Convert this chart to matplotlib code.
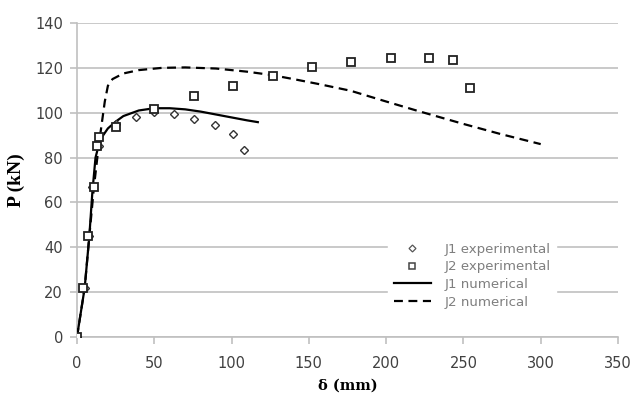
import matplotlib.pyplot as plt
from matplotlib.lines import Line2D

# J1 experimental (diamonds)
j1_exp_x = [0, 5, 8, 10, 14, 25, 38, 50, 63, 76, 89, 101, 108]
j1_exp_y = [0, 22, 45, 67, 85, 95, 98, 100.5, 99.5, 97, 94.5, 90.5, 83.5]

# J2 experimental (squares)
j2_exp_x = [0, 4, 7, 11, 13, 14.5, 25, 50, 76, 101, 127, 152, 177, 203, 228, 243, 254]
j2_exp_y = [0, 22, 45, 67, 85, 89, 93.5, 101.8, 107.6, 112, 116.5, 120.2, 122.8, 124.6, 124.6, 123.6, 111]

# J1 numerical (solid)
j1_num_x = [0, 5, 8, 10, 12, 15, 20, 25, 30, 40, 50, 60, 70, 80, 90, 100, 110, 117]
j1_num_y = [0, 22, 45, 65, 80, 88, 93, 96, 98.5, 101, 102, 102, 101.5, 100.5, 99.2, 97.9, 96.6, 95.8]

# J2 numerical (dashed)
j2_num_x = [0, 5, 8, 11, 14, 16, 18, 20, 23, 30, 40, 55, 70, 90, 110, 126, 140, 157, 177, 200, 220, 250, 274, 300]
j2_num_y = [0, 22, 45, 67, 85, 95, 105, 112, 115, 117.5, 119, 120, 120.2, 119.7, 118.3, 116.8, 115, 112.7, 109.8, 105, 100.9, 95, 90.5, 86]

fig = plt.figure(figsize=(6.33, 3.94), dpi=100)
ax = fig.add_axes([0.1216, 0.1447, 0.8547, 0.7969])

grid_c = '#c0c0c0'
ax.plot(j2_num_x, j2_num_y, color='black', lw=1.6, ls=(0, (4, 2.5)), zorder=3)
ax.plot(j1_num_x, j1_num_y, color='black', lw=1.6, zorder=3)
ax.plot(j1_exp_x, j1_exp_y, ls='none', marker='D', ms=4.3, mfc='white', mec='#333333', mew=1.0, zorder=4)
ax.plot(j2_exp_x, j2_exp_y, ls='none', marker='s', ms=5.3, mfc='white', mec='#222222', mew=1.3, zorder=5)

ax.set_xlim(0, 350)
ax.set_ylim(0, 140)
ax.set_xticks(range(0, 351, 50))
ax.set_yticks(range(0, 141, 20))
ax.yaxis.grid(True, color=grid_c, lw=1.2)
ax.set_axisbelow(True)

for s in ['top', 'right']:
    ax.spines[s].set_visible(False)
for s in ['left', 'bottom']:
    ax.spines[s].set_color(grid_c)
    ax.spines[s].set_linewidth(1.2)
ax.tick_params(axis='x', colors=grid_c, length=5, width=1.2, labelcolor='#404040', labelsize=10.5, pad=9)
ax.tick_params(axis='y', colors=grid_c, length=5, width=1.2, labelcolor='#404040', labelsize=10.5, pad=5)

ax.set_xlabel('δ (mm)', family='DejaVu Serif', fontweight='bold', fontsize=10.5, labelpad=5)
ax.set_ylabel('P (kN)', family='Liberation Serif', fontweight='bold', fontsize=14, labelpad=7)

handles = [
    Line2D([], [], ls='none', marker='D', ms=3.5, mfc='white', mec='#555555', mew=0.9),
    Line2D([], [], ls='none', marker='s', ms=4.5, mfc='white', mec='#444444', mew=1.1),
    Line2D([], [], color='black', lw=1.6),
    Line2D([], [], color='black', lw=1.6, ls=(0, (4, 2.5))),
]
labels = ['J1 experimental', 'J2 experimental', 'J1 numerical', 'J2 numerical']
leg = ax.legend(handles, labels, loc='center', bbox_to_anchor=(0.73, 0.195), frameon=True,
                framealpha=1, edgecolor='white', facecolor='white', fontsize=9.6,
                labelspacing=0.35, handlelength=2.8, handletextpad=1.0, borderpad=0.4)
for t in leg.get_texts():
    t.set_color('#7f7f7f')

fig.savefig('out.png', dpi=100)
